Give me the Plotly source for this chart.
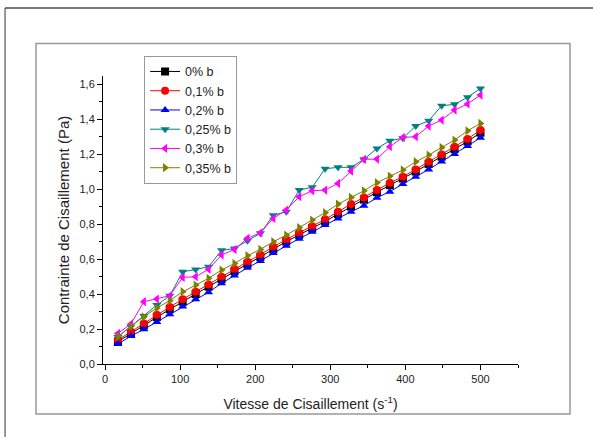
import plotly.graph_objects as go

shear_rate = [17.2, 34.5, 51.7, 69.0, 86.2, 103.4, 120.7, 137.9, 155.2, 172.4,
              189.7, 206.9, 224.1, 241.4, 258.6, 275.9, 293.1, 310.3, 327.6, 344.8,
              362.1, 379.3, 396.6, 413.8, 431.0, 448.3, 465.5, 482.8, 500.0]

stress_0 = [0.128, 0.172, 0.220, 0.268, 0.313, 0.356, 0.400, 0.442, 0.486, 0.530,
            0.572, 0.612, 0.656, 0.700, 0.738, 0.776, 0.815, 0.857, 0.900, 0.940,
            0.982, 1.022, 1.060, 1.100, 1.143, 1.185, 1.228, 1.272, 1.322]
stress_01 = [0.137, 0.185, 0.232, 0.282, 0.326, 0.370, 0.413, 0.455, 0.499, 0.543,
             0.585, 0.625, 0.670, 0.712, 0.750, 0.787, 0.827, 0.870, 0.914, 0.952,
             0.994, 1.036, 1.070, 1.112, 1.156, 1.198, 1.242, 1.286, 1.337]
stress_02 = [0.114, 0.160, 0.198, 0.240, 0.284, 0.328, 0.370, 0.410, 0.461, 0.506,
             0.550, 0.589, 0.634, 0.676, 0.716, 0.756, 0.794, 0.832, 0.870, 0.905,
             0.950, 0.985, 1.029, 1.070, 1.112, 1.158, 1.200, 1.246, 1.293]
stress_025 = [0.155, 0.215, 0.275, 0.337, 0.390, 0.527, 0.540, 0.556, 0.650, 0.660,
              0.705, 0.747, 0.850, 0.870, 0.994, 1.010, 1.116, 1.124, 1.124, 1.170,
              1.232, 1.276, 1.290, 1.360, 1.390, 1.476, 1.484, 1.524, 1.575]
stress_03 = [0.175, 0.229, 0.356, 0.371, 0.390, 0.495, 0.499, 0.541, 0.623, 0.655,
             0.718, 0.750, 0.832, 0.880, 0.956, 0.990, 0.994, 1.032, 1.103, 1.170,
             1.171, 1.242, 1.295, 1.299, 1.360, 1.394, 1.451, 1.486, 1.537]
stress_035 = [0.156, 0.217, 0.270, 0.320, 0.362, 0.413, 0.451, 0.490, 0.537, 0.575,
              0.619, 0.655, 0.699, 0.737, 0.780, 0.823, 0.865, 0.914, 0.952, 0.990,
              1.036, 1.074, 1.109, 1.156, 1.194, 1.238, 1.280, 1.333, 1.375]

series_names = ["0% b", "0,1% b", "0,2% b", "0,25% b", "0,3% b", "0,35% b"]
series_values = [stress_0, stress_01, stress_02, stress_025, stress_03, stress_035]
colors = ["#000000", "#FF0000", "#0000FF", "#008080", "#FF00FF", "#808000"]
symbols = ["square", "circle", "triangle-up", "triangle-down", "triangle-left", "triangle-right"]

FONT = "Liberation Sans"

fig = go.Figure()
for name, vals, col, sym in zip(series_names, series_values, colors, symbols):
    fig.add_trace(go.Scatter(
        x=shear_rate, y=vals, name=name, mode="lines+markers",
        line=dict(color=col, width=1),
        marker=dict(symbol=sym, size=8, color=col),
    ))

axis_common = dict(
    showline=True, linecolor="#000000", linewidth=1,
    ticks="outside", ticklen=5, tickcolor="#000000", tickwidth=1,
    showgrid=False, zeroline=False,
    tickfont=dict(family=FONT, size=11, color="#222222"),
)

fig.update_layout(
    width=593, height=437,
    margin=dict(l=103, r=75, t=76, b=73),
    paper_bgcolor="white", plot_bgcolor="white",
    separators=", ",
    font=dict(family=FONT, color="#222222"),
    xaxis=dict(
        range=[-2.7, 550], dtick=100, tick0=0,
        minor=dict(dtick=50, ticklen=3, ticks="outside", tickcolor="#000000"),
        title=dict(text="Vitesse de Cisaillement (s<sup>-1</sup>)",
                   font=dict(family=FONT, size=14, color="#222222"), standoff=14),
        **axis_common,
    ),
    yaxis=dict(
        range=[0, 1.646], dtick=0.2, tick0=0, tickformat=".1f",
        minor=dict(dtick=0.1, ticklen=3, ticks="outside", tickcolor="#000000"),
        title=dict(text="Contrainte de Cisaillement (Pa)",
                   font=dict(family=FONT, size=15, color="#222222"), standoff=6),
        **axis_common,
    ),
    legend=dict(
        x=0.099, y=1.07, xanchor="left", yanchor="top",
        bordercolor="#999999", borderwidth=1, bgcolor="white",
        font=dict(family=FONT, size=12.5, color="#222222"), tracegroupgap=0,
    ),
    shapes=[
        dict(type="rect", xref="paper", yref="paper",
             x0=-0.1614, x1=1.1253, y0=-0.1736, y1=1.1128,
             line=dict(color="#999999", width=1.5), layer="below"),
        dict(type="line", xref="paper", yref="paper",
             x0=-0.236, x1=1.2, y0=1.236, y1=1.236,
             line=dict(color="#777777", width=2)),
        dict(type="line", xref="paper", yref="paper",
             x0=-0.236, x1=-0.236, y0=1.236, y1=-0.3,
             line=dict(color="#333333", width=1)),
    ],
)

fig.write_html("out.html")
